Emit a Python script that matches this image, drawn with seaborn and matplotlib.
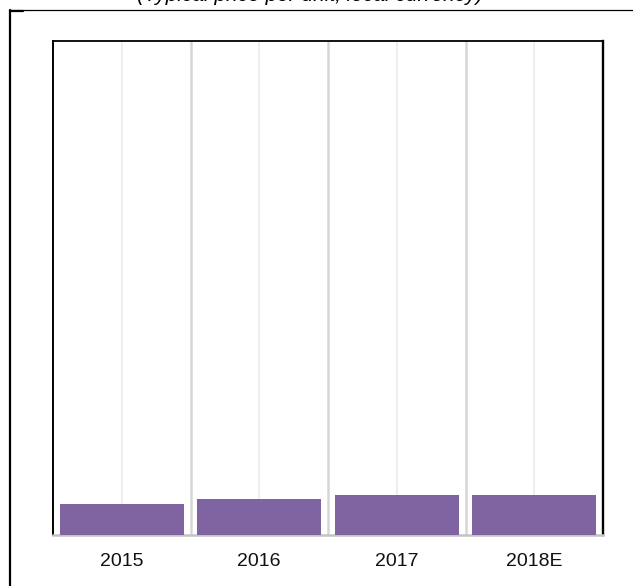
import matplotlib
matplotlib.use("Agg")
import matplotlib.pyplot as plt
import seaborn as sns
import pandas as pd
from matplotlib.lines import Line2D

categories = ["2015", "2016", "2017", "2018E"]
values = [6.26, 7.27, 8.08, 8.12]
title_text = "(Typical price per unit, local currency)"

sns.set_theme(style="white")
plt.rcParams['font.family'] = ['Liberation Sans', 'DejaVu Sans']

df = pd.DataFrame({"year": categories, "value": values})

fig = plt.figure(figsize=(6.33, 5.86), dpi=100)
W, H = 633, 586
ax = fig.add_axes([53 / W, 1 - 535 / H, (603 - 53) / W, (535 - 40.5) / H])

sns.barplot(data=df, x="year", y="value", color="#8064A2", saturation=1,
            width=0.905, edgecolor="none", ax=ax, zorder=3)

ax.set_xlim(-0.5, len(categories) - 0.5)
ax.set_ylim(0, 100)
ax.set_yticks([])
ax.set_xlabel("")
ax.set_ylabel("")

ax.set_xticks(range(len(categories)))
ax.set_xticklabels(categories)
ax.tick_params(axis="x", which="both", length=0, pad=13, labelsize=14, labelcolor="#111111")
ax.grid(False)
for i in range(len(categories)):
    ax.axvline(i, color="#ededed", lw=1.3, zorder=1)
for i in range(len(categories) - 1):
    ax.axvline(i + 0.5, color="#d6d6d6", lw=1.8, zorder=1)

for side in ["left", "top", "right"]:
    ax.spines[side].set_color("black")
    ax.spines[side].set_visible(True)
ax.spines["left"].set_linewidth(1.4)
ax.spines["top"].set_linewidth(1.3)
ax.spines["right"].set_linewidth(1.7)
ax.spines["bottom"].set_color("#c4c4c4")
ax.spines["bottom"].set_linewidth(1.8)
ax.spines["bottom"].set_visible(True)

# outer frame (partial)
fig.add_artist(Line2D([10 / W, 1.0], [1 - 10 / H, 1 - 10 / H], color="black", lw=0.9))
fig.add_artist(Line2D([10 / W, 10 / W], [0, 1 - 10 / H], color="black", lw=1.6))
fig.add_artist(Line2D([10 / W, 23 / W], [1 - 10.5 / H, 1 - 10.5 / H], color="black", lw=1.6))

# cropped title at the very top (only its lower part is visible, as in the reference)
fig.text(310 / W, 1 - 1 / H, title_text, ha="center", va="baseline",
         fontsize=15, style="italic", color="black")

fig.savefig("out.png", dpi=100)
